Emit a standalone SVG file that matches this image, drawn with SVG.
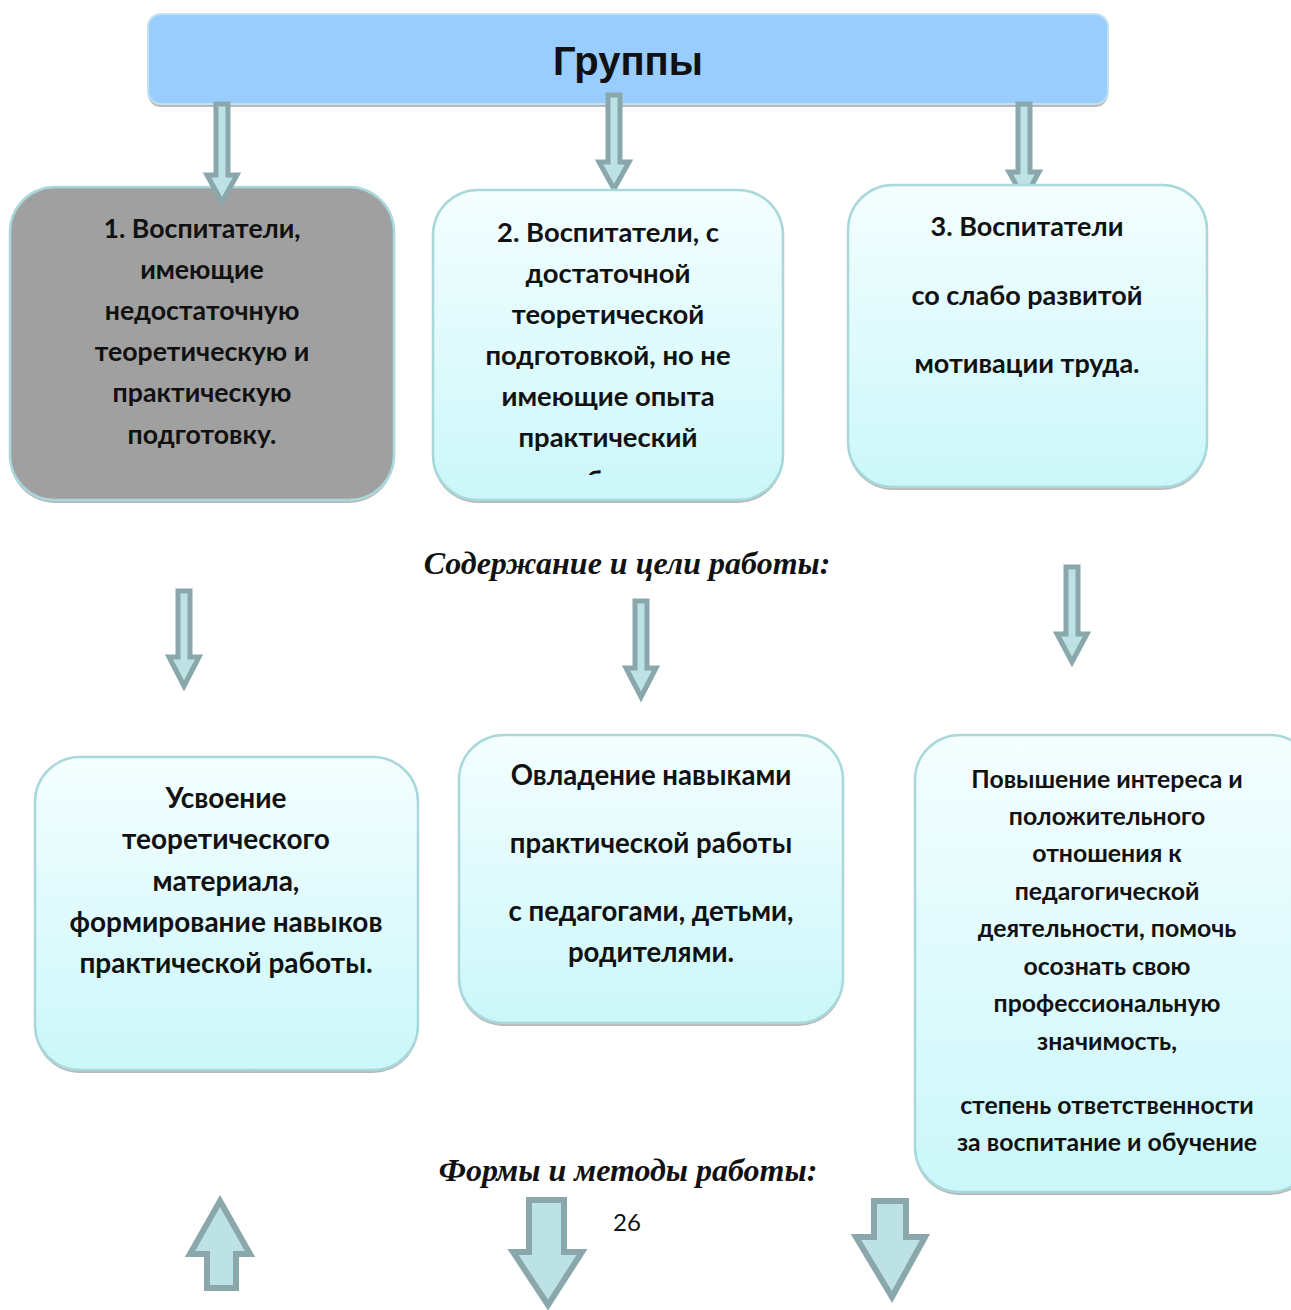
<svg xmlns="http://www.w3.org/2000/svg" width="1291" height="1310" viewBox="0 0 1291 1310">
<defs>
<linearGradient id="cyan" x1="0" y1="0" x2="0" y2="1">
<stop offset="0" stop-color="#f4feff"/>
<stop offset="1" stop-color="#cbf7fa"/>
</linearGradient>
<clipPath id="clip2"><rect x="433" y="190" width="350" height="285"/></clipPath>
</defs>
<style>
.box{stroke:#a9d8db;stroke-width:2.5}
.cy{fill:url(#cyan)}
.sh{fill:#9a9a9a;opacity:0.7}
.t{font-family:Lato,"Open Sans",sans-serif;font-weight:bold;fill:#111;text-anchor:middle}
.h{font-family:"Times New Roman","Liberation Serif",serif;font-weight:bold;font-style:italic;font-size:32px;fill:#111;text-anchor:middle}
.arr{fill:#bde2e6;stroke:#8aa8ab;stroke-width:5;stroke-linejoin:miter}
.fat{fill:#bde2e6;stroke:#8aa8ab;stroke-width:6;stroke-linejoin:miter}
</style>
<rect width="1291" height="1310" fill="#fff"/>

<g id="header">
<rect x="148" y="17" width="960" height="90" rx="13" class="sh"/>
<rect x="148" y="14" width="960" height="90" rx="13" fill="#99ccff" stroke="#bfe3ee" stroke-width="2"/>
<text x="628" y="75" font-family="Liberation Sans,Arial,sans-serif" font-weight="bold" font-size="40" text-anchor="middle" fill="#111">Группы</text>
</g>

<g id="connectors-behind">
<path class="arr" d="M608 95 L620 95 L620 162 L629 162 L614 189 L599 162 L608 162 Z"/>
<path class="arr" d="M1018 104 L1030 104 L1030 172 L1039 172 L1024 199 L1009 172 L1018 172 Z"/>
</g>

<g id="box1">
<rect x="10" y="190" width="384" height="313" rx="45" class="sh"/>
<rect x="10" y="187" width="384" height="313" rx="45" fill="#a0a0a0" class="box"/>
<g font-size="26.7">
<text class="t" x="202" y="238">1. Воспитатели,</text>
<text class="t" x="202" y="279">имеющие</text>
<text class="t" x="202" y="320">недостаточную</text>
<text class="t" x="202" y="361">теоретическую и</text>
<text class="t" x="202" y="402">практическую</text>
<text class="t" x="202" y="444">подготовку.</text>
</g>
</g>

<g id="box2">
<rect x="433" y="193" width="350" height="310" rx="45" class="sh"/>
<rect x="433" y="190" width="350" height="310" rx="45" class="cy box"/>
<g clip-path="url(#clip2)" font-size="27.4">
<text class="t" x="608" y="242">2. Воспитатели, с</text>
<text class="t" x="608" y="283">достаточной</text>
<text class="t" x="608" y="324">теоретической</text>
<text class="t" x="608" y="365">подготовкой, но не</text>
<text class="t" x="608" y="406">имеющие опыта</text>
<text class="t" x="608" y="447">практический</text>
<text class="t" x="608" y="490">работы.</text>
</g>
</g>

<g id="box3">
<rect x="848" y="188" width="359" height="302" rx="45" class="sh"/>
<rect x="848" y="185" width="359" height="302" rx="45" class="cy box"/>
<g font-size="27">
<text class="t" x="1027" y="236">3. Воспитатели</text>
<text class="t" x="1027" y="305">со слабо развитой</text>
<text class="t" x="1027" y="373">мотивации труда.</text>
</g>
</g>

<g id="label1">
<text class="h" x="627" y="574">Содержание и цели работы:</text>
</g>

<g id="connectors">
<path class="arr" d="M216 104 L228 104 L228 175 L237 175 L222 202 L207 175 L216 175 Z"/>
<path class="arr" d="M178 591 L190 591 L190 657 L199 657 L184 686 L169 657 L178 657 Z"/>
<path class="arr" d="M635 601 L647 601 L647 668 L656 668 L641 697 L626 668 L635 668 Z"/>
<path class="arr" d="M1066 567 L1078 567 L1078 634 L1087 634 L1072 662 L1057 634 L1066 634 Z"/>
<path class="fat" d="M220 1201 L250 1254 L236 1254 L236 1288 L207 1288 L207 1254 L190 1254 Z"/>
<path class="fat" d="M529 1200 L564 1200 L564 1252 L582 1252 L548 1305 L513 1252 L529 1252 Z"/>
<path class="fat" d="M874 1201 L906 1201 L906 1237 L925 1237 L892 1297 L856 1237 L874 1237 Z"/>
</g>

<g id="box4">
<rect x="35" y="760" width="383" height="313" rx="45" class="sh"/>
<rect x="35" y="757" width="383" height="313" rx="45" class="cy box"/>
<g font-size="28">
<text class="t" x="226" y="808">Усвоение</text>
<text class="t" x="226" y="849">теоретического</text>
<text class="t" x="226" y="891">материала,</text>
<text class="t" x="226" y="932">формирование навыков</text>
<text class="t" x="226" y="973">практической работы.</text>
</g>
</g>

<g id="box5">
<rect x="459" y="738" width="384" height="288" rx="45" class="sh"/>
<rect x="459" y="735" width="384" height="288" rx="45" class="cy box"/>
<g font-size="27.6">
<text class="t" x="651" y="785">Овладение навыками</text>
<text class="t" x="651" y="853">практической работы</text>
<text class="t" x="651" y="921">с педагогами, детьми,</text>
<text class="t" x="651" y="962">родителями.</text>
</g>
</g>

<g id="box6">
<rect x="915" y="738" width="400" height="457" rx="45" class="sh"/>
<rect x="915" y="735" width="400" height="457" rx="45" class="cy box"/>
<g font-size="24.8">
<text class="t" x="1107" y="788">Повышение интереса и</text>
<text class="t" x="1107" y="825">положительного</text>
<text class="t" x="1107" y="862">отношения к</text>
<text class="t" x="1107" y="900">педагогической</text>
<text class="t" x="1107" y="937">деятельности, помочь</text>
<text class="t" x="1107" y="975">осознать свою</text>
<text class="t" x="1107" y="1012">профессиональную</text>
<text class="t" x="1107" y="1050">значимость,</text>
<text class="t" x="1107" y="1114">степень ответственности</text>
<text class="t" x="1107" y="1151">за воспитание и обучение</text>
</g>
</g>

<g id="label2">
<text class="h" x="628" y="1181">Формы и методы работы:</text>
</g>

<g id="page">
<text x="627" y="1231" font-family="Lato,sans-serif" font-size="24" text-anchor="middle" fill="#111">26</text>
</g>
</svg>
